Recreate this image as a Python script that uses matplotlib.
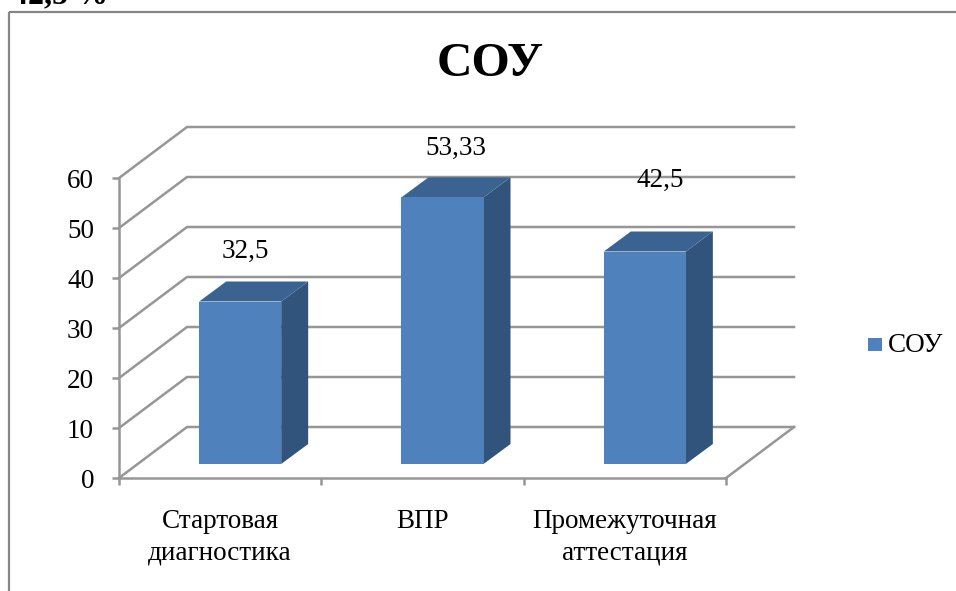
import matplotlib
matplotlib.use("Agg")
import matplotlib.pyplot as plt
from matplotlib.patches import Polygon, Rectangle

plt.rcParams['font.family'] = ['Liberation Serif', 'DejaVu Serif']

W, H = 956, 591

categories = ["Стартовая\nдиагностика", "ВПР", "Промежуточная\nаттестация"]
values = [32.5, 53.33, 42.5]
value_labels = ["32,5", "53,33", "42,5"]
y_ticks = [0, 10, 20, 30, 40, 50, 60]
series_name = "СОУ"

# value labels were hand placed in the original, so each has its own offset
label_gap = [8.7, 8.5, 12.9]
label_shift = [5 / 202.3, 13 / 202.3, 15 / 202.3]

# depth of the fake 3d box, in axis units
depth_x = 68 / 202.3
depth_y = 10.2
bar_width = 82 / 202.3
bar_dx = 27 / 202.3
bar_dy = 4.0

grid_col = "#969696"
front_col = "#4f81bd"
side_col = "#31547c"
top_col = "#3b6391"

fig = plt.figure(figsize=(W / 100, H / 100), dpi=100)

# outer chart frame, cut off by the screenshot
frame = fig.add_axes([0, 0, 1, 1])
frame.set_xlim(0, W)
frame.set_ylim(H, 0)
frame.axis('off')
frame.add_patch(Rectangle((9.5, 11.5), 1000, 1000, fill=False, ec="#868686", lw=1.6))
frame.text(12, 3, "42,5 %", fontsize=23, fontweight='bold', va='baseline', ha='left')
frame.text(490, 76, series_name, fontsize=35.5, fontweight='bold', ha='center', va='baseline')
frame.add_patch(Rectangle((868, 338), 14, 13, fc=front_col, ec='none'))
frame.text(888, 352, series_name, fontsize=19.5, ha='left', va='baseline')

ax = fig.add_axes([119 / W, 1 - 478 / H, 607 / W, 300 / H])
ax.set_xlim(0, 3)
ax.set_ylim(0, 60)
ax.patch.set_visible(False)
for s in ['top', 'right']:
    ax.spines[s].set_visible(False)
for s in ['left', 'bottom']:
    ax.spines[s].set_color(grid_col)
    ax.spines[s].set_linewidth(1.8)

ax.set_yticks(y_ticks)
ax.set_xticks([0, 1, 2, 3])
ax.set_xticklabels([])
ax.set_xticks([0.5, 1.5, 2.5], minor=True)
ax.set_xticklabels(categories, minor=True, fontsize=19.5, linespacing=1.35)
ax.tick_params(axis='x', which='major', length=5, width=1.8, color=grid_col)
ax.tick_params(axis='x', which='minor', length=0, pad=22)
ax.tick_params(axis='y', length=5, width=1.8, color=grid_col, labelsize=19.5, pad=13)

# back wall grid and floor
for v in y_ticks:
    ax.plot([0, depth_x, 3 + depth_x], [v, v + depth_y, v + depth_y], color=grid_col, lw=1.8,
            clip_on=False, zorder=1, solid_joinstyle='miter')
ax.plot([3, 3 + depth_x], [0, depth_y], color=grid_col, lw=1.8, clip_on=False, zorder=1)

# bars
for i, v in enumerate(values):
    x0 = i + 0.5 - bar_width / 2 + 20 / 202.3
    x1 = x0 + bar_width
    y0 = 2.8
    y1 = y0 + v
    ax.add_patch(Polygon([(x1, y0), (x1 + bar_dx, y0 + bar_dy), (x1 + bar_dx, y1 + bar_dy), (x1, y1)],
                         fc=side_col, ec='none', clip_on=False, zorder=3))
    ax.add_patch(Polygon([(x0, y1), (x1, y1), (x1 + bar_dx, y1 + bar_dy), (x0 + bar_dx, y1 + bar_dy)],
                         fc=top_col, ec='none', clip_on=False, zorder=3))
    ax.add_patch(Rectangle((x0, y0), bar_width, v, fc=front_col, ec='none', clip_on=False, zorder=4))
    ax.text(x0 + bar_width / 2 + label_shift[i], y1 + label_gap[i], value_labels[i], fontsize=19.5,
            ha='center', va='baseline', zorder=5)

fig.savefig("out.png", dpi=100)
